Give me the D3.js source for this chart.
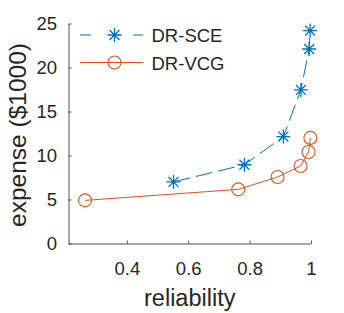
<!DOCTYPE html>
<html>
<head>
<meta charset="utf-8">
<script src="https://cdn.jsdelivr.net/npm/d3@7"></script>
<style>
  body { margin: 0; background: #fff; }
  svg { display: block; font-family: "Liberation Sans", Arial, sans-serif; }
</style>
</head>
<body>
<div id="chart"></div>
<script>
// values
const sceReliability = [0.552, 0.783, 0.910, 0.967, 0.994, 0.997];
const sceExpense = [7.0, 8.95, 12.15, 17.45, 22.1, 24.2];
const vcgReliability = [0.264, 0.763, 0.891, 0.966, 0.992, 0.998];
const vcgExpense = [4.9, 6.15, 7.55, 8.8, 10.4, 12.0];
const xTicks = [0.4, 0.6, 0.8, 1];
const yTicks = [0, 5, 10, 15, 20, 25];
const seriesNames = ["DR-SCE", "DR-VCG"];

const width = 344, height = 313;
const margin = { left: 68.5, right: 33, top: 23.5, bottom: 69.5 };
const axisColor = "#262626";
const blue = "#0072BD", orange = "#D95319";

const svg = d3.select("#chart").append("svg")
  .attr("width", width)
  .attr("height", height);

const x = d3.scaleLinear().domain([0.21, 1]).range([margin.left, width - margin.right]);
const y = d3.scaleLinear().domain([0, 25]).range([height - margin.bottom, margin.top]);

// axes, ticks pointing inward
const xAxis = svg.append("g")
  .attr("transform", `translate(0,${y(0)})`)
  .call(d3.axisBottom(x).tickValues(xTicks).tickFormat(d3.format("")).tickSizeInner(-3).tickSizeOuter(0).tickPadding(18));
const yAxis = svg.append("g")
  .attr("transform", `translate(${x.range()[0]},0)`)
  .call(d3.axisLeft(y).tickValues(yTicks).tickSizeInner(-3).tickSizeOuter(0).tickPadding(11.5));

[xAxis, yAxis].forEach(g => {
  g.select(".domain").attr("stroke", axisColor).attr("stroke-width", 0.8);
  g.selectAll(".tick line").attr("stroke", axisColor).attr("stroke-width", 0.8);
  g.selectAll(".tick text").attr("fill", axisColor).style("font-size", "18.5px");
});

svg.append("text")
  .attr("x", (x.range()[0] + x.range()[1]) / 2)
  .attr("y", 306)
  .attr("text-anchor", "middle")
  .attr("fill", axisColor)
  .style("font-size", "23.5px")
  .text("reliability");

svg.append("text")
  .attr("transform", `translate(25.5,135) rotate(-90)`)
  .attr("text-anchor", "middle")
  .attr("fill", axisColor)
  .style("font-size", "24.5px")
  .text("expense ($1000)");

const line = d3.line().x(d => x(d[0])).y(d => y(d[1]));
const sce = d3.zip(sceReliability, sceExpense);
const vcg = d3.zip(vcgReliability, vcgExpense);

// star marker: + and x combined
const starPath = r => {
  const d = r * 0.707;
  return `M${-r},0L${r},0M0,${-r}L0,${r}M${-d},${-d}L${d},${d}M${-d},${d}L${d},${-d}`;
};

svg.append("path").datum(sce)
  .attr("d", line)
  .attr("fill", "none")
  .attr("stroke", blue)
  .attr("stroke-width", 1)
  .attr("stroke-dasharray", "17,6");

svg.append("path").datum(vcg)
  .attr("d", line)
  .attr("fill", "none")
  .attr("stroke", orange)
  .attr("stroke-width", 1);

svg.append("g").selectAll("path")
  .data(sce)
  .join("path")
  .attr("transform", d => `translate(${x(d[0])},${y(d[1])})`)
  .attr("d", starPath(7))
  .attr("fill", "none")
  .attr("stroke", blue)
  .attr("stroke-width", 1.3);

svg.append("g").selectAll("circle")
  .data(vcg)
  .join("circle")
  .attr("cx", d => x(d[0]))
  .attr("cy", d => y(d[1]))
  .attr("r", 6.5)
  .attr("fill", "none")
  .attr("stroke", orange)
  .attr("stroke-width", 1.1);

// legend
const legend = svg.append("g");
const legendRows = [
  { name: seriesNames[0], color: blue, dash: "11,42", y: 35 },
  { name: seriesNames[1], color: orange, dash: null, y: 62.5 }
];
legendRows.forEach(r => {
  legend.append("line")
    .attr("x1", 80).attr("x2", 143)
    .attr("y1", r.y).attr("y2", r.y)
    .attr("stroke", r.color)
    .attr("stroke-width", 1)
    .attr("stroke-dasharray", r.dash);
  if (r.dash) {
    legend.append("path")
      .attr("transform", `translate(114.5,${r.y})`)
      .attr("d", starPath(7))
      .attr("fill", "none")
      .attr("stroke", r.color)
      .attr("stroke-width", 1.3);
  } else {
    legend.append("circle")
      .attr("cx", 114.5).attr("cy", r.y).attr("r", 6.5)
      .attr("fill", "none")
      .attr("stroke", r.color)
      .attr("stroke-width", 1.1);
  }
  legend.append("text")
    .attr("x", 151.5)
    .attr("y", r.y + 7)
    .attr("fill", axisColor)
    .style("font-size", "18.5px")
    .text(r.name);
});
</script>
</body>
</html>
